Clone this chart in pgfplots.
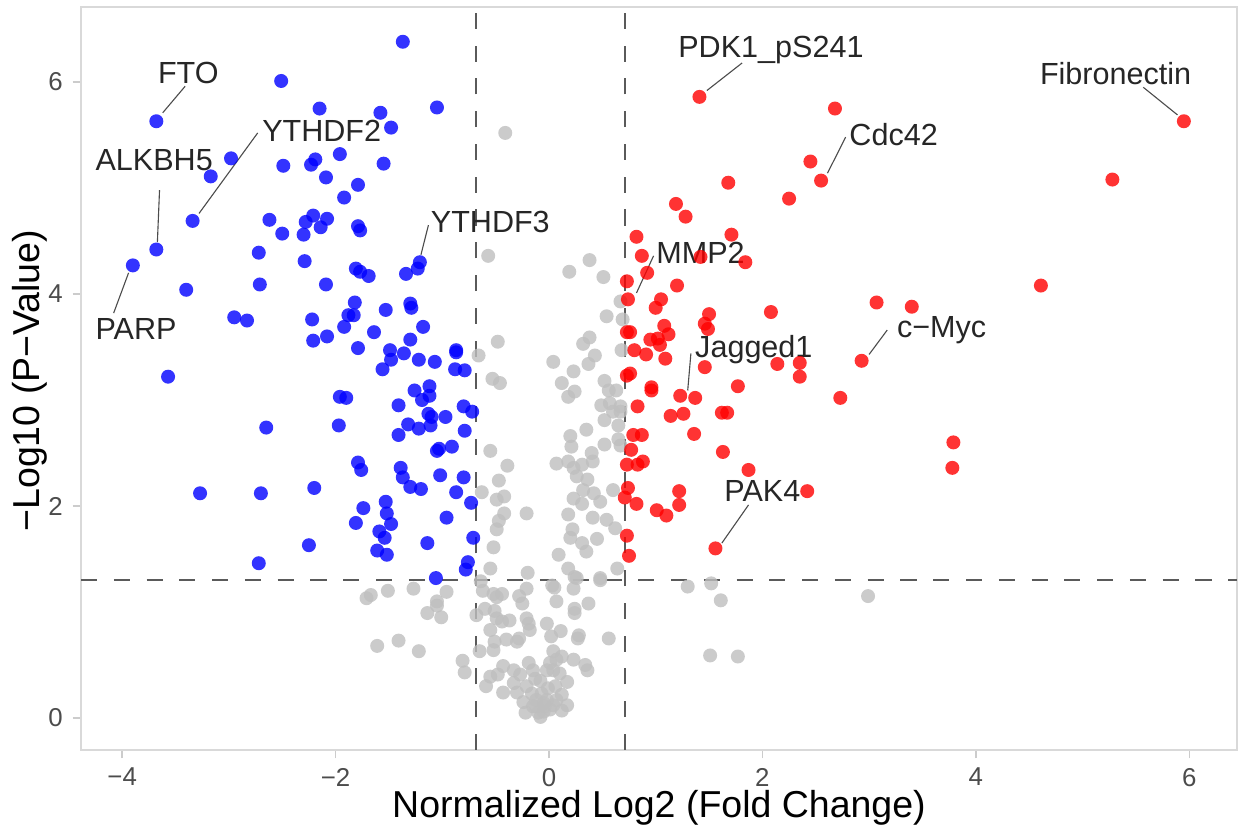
\documentclass[border=0pt]{standalone}
\usepackage{fontspec}
\setmainfont{Liberation Sans}
\usepackage{pgfplots}
\pgfplotsset{compat=1.18}
\definecolor{gcol}{RGB}{190,190,190}
\definecolor{bcol}{RGB}{0,0,255}
\definecolor{rcol}{RGB}{255,0,0}
\definecolor{dashcol}{RGB}{90,90,90}
\begin{document}
\begin{tikzpicture}
\useasboundingbox (0,0) rectangle (446.76pt,298.8pt);
\begin{axis}[
  at={(29.16pt,28.8pt)}, anchor=south west,
  scale only axis, width=416.16pt, height=267.48pt,
  xmin=-4.386, xmax=6.448, ymin=-0.302, ymax=6.708,
  xtick={-4,-2,0,2,4,6}, xticklabels={−4,−2,0,2,4,6},
  ytick={0,2,4,6}, yticklabels={0,2,4,6},
  axis line style={draw=black!15, line width=0.5pt},
  tick style={draw=black!20, line width=0.5pt},
  major tick length=3pt, tick align=outside, tick pos=left,
  ticklabel style={font=\fontsize{9.3}{11}\selectfont, text=black!70},
  xlabel={Normalized Log2 (Fold Change)},
  ylabel={−Log10 (P−Value)},
  label style={font=\fontsize{13.5}{16}\selectfont, text=black},
  xlabel style={at={([yshift=-20.9pt]axis description cs:0.5,0)}, anchor=center},
  ylabel style={at={([xshift=-18.4pt]axis description cs:0,0.497)}, anchor=center},
  pt/.style={only marks, mark=*, mark size=2.52pt, color=#1, mark options={solid, fill=#1, draw opacity=0, fill opacity=0.8}},
]
% grey: not significant
\addplot[pt=gcol] table {
x y
-0.41 5.52
-0.57 4.36
0.19 4.21
0.38 4.32
0.51 4.16
-0.66 3.42
-0.48 3.55
-0.53 3.20
-0.46 3.16
0.04 3.36
0.23 3.27
0.12 3.16
0.24 3.08
0.18 3.03
0.32 3.53
0.38 3.59
0.43 3.42
0.37 3.34
0.54 3.79
0.67 3.93
0.69 3.76
0.68 3.47
0.52 3.18
0.56 3.09
0.63 3.09
0.49 2.95
0.57 2.97
0.67 2.94
0.60 2.89
0.67 2.89
0.52 2.81
0.65 2.76
0.35 2.72
0.20 2.66
0.21 2.56
0.52 2.58
0.65 2.63
0.67 2.57
0.07 2.40
0.18 2.42
0.23 2.36
0.31 2.39
0.40 2.50
0.41 2.42
0.26 2.28
0.36 2.25
0.60 2.15
0.32 2.15
0.42 2.12
0.23 2.07
0.31 2.02
0.48 2.04
0.18 1.92
0.41 1.89
0.54 1.87
0.62 1.79
0.22 1.78
0.20 1.70
0.31 1.65
0.45 1.69
0.35 1.57
0.09 1.54
0.18 1.41
0.24 1.33
0.48 1.32
0.64 1.41
-0.20 1.37
-0.55 2.52
-0.39 2.38
-0.47 2.24
-0.63 2.13
-0.49 2.06
-0.42 2.09
-0.42 1.93
-0.47 1.86
-0.21 1.93
-0.49 1.78
-0.52 1.61
-0.55 1.41
-1.71 1.13
-1.67 1.16
-1.51 1.20
-1.27 1.22
-0.96 1.19
-1.05 1.10
-1.05 1.06
-1.14 0.99
-1.01 0.95
-1.61 0.68
-1.41 0.73
-1.22 0.63
-0.81 0.54
-0.79 0.43
-0.68 0.97
-0.64 1.29
-0.62 1.20
-0.52 1.17
-0.44 1.17
-0.49 1.14
-0.21 1.22
-0.28 1.15
-0.25 1.08
0.03 1.25
0.05 1.23
0.23 1.22
0.26 1.32
0.07 1.10
0.24 1.03
0.24 0.99
0.37 1.08
0.48 1.30
-0.60 1.03
-0.51 1.01
-0.49 0.94
-0.44 0.91
-0.37 0.92
-0.55 0.83
-0.21 0.94
-0.19 0.89
-0.18 0.83
-0.02 0.89
0.02 0.77
0.11 0.82
0.27 0.75
0.28 0.78
0.56 0.75
-0.65 0.63
-0.51 0.72
-0.52 0.64
-0.40 0.74
-0.30 0.72
-0.28 0.75
0.04 0.63
0.12 0.58
0.23 0.55
0.34 0.50
0.36 0.45
-0.43 0.49
-0.55 0.39
-0.59 0.30
-0.43 0.24
-0.48 0.41
-0.33 0.45
-0.27 0.41
-0.19 0.52
-0.15 0.45
-0.33 0.33
-0.30 0.24
-0.21 0.30
-0.13 0.37
-0.02 0.45
0.01 0.52
0.07 0.55
0.10 0.42
0.17 0.34
-0.01 0.28
0.12 0.22
0.17 0.12
0.12 0.07
-0.24 0.15
-0.22 0.05
-0.15 0.11
-0.08 0.01
-0.05 0.06
0.01 0.08
0.04 0.12
-0.12 0.17
-0.02 0.17
-0.16 0.23
-0.07 0.23
0.07 0.17
-0.12 0.11
-0.04 0.11
0.04 0.45
-0.10 0.05
-0.05 0.14
0.06 0.30
-0.08 0.35
1.30 1.24
1.52 1.27
1.61 1.11
2.99 1.15
1.51 0.59
1.77 0.58
};
% blue: down
\addplot[pt=bcol] table {
x y
-1.37 6.38
-2.51 6.01
-3.68 5.63
-2.15 5.75
-1.05 5.76
-1.58 5.71
-1.48 5.57
-2.98 5.28
-3.17 5.11
-2.49 5.21
-2.23 5.22
-2.19 5.27
-1.96 5.32
-1.55 5.23
-2.09 5.10
-1.79 5.03
-1.92 4.91
-3.34 4.69
-2.62 4.70
-2.50 4.57
-2.30 4.56
-2.28 4.68
-2.21 4.74
-2.08 4.71
-2.14 4.63
-1.79 4.64
-1.77 4.60
-3.68 4.42
-2.72 4.39
-2.29 4.31
-1.81 4.24
-1.77 4.21
-1.69 4.17
-1.34 4.19
-1.23 4.24
-1.21 4.30
-3.90 4.27
-2.71 4.09
-2.09 4.09
-3.40 4.04
-2.95 3.78
-2.83 3.75
-2.22 3.76
-2.21 3.56
-2.08 3.60
-1.82 3.92
-1.88 3.80
-1.83 3.80
-1.92 3.69
-1.79 3.49
-1.64 3.64
-1.53 3.85
-1.30 3.91
-1.29 3.87
-1.18 3.69
-1.30 3.57
-1.49 3.47
-1.48 3.38
-1.36 3.44
-1.22 3.38
-1.07 3.36
-1.56 3.29
-0.87 3.47
-0.87 3.45
-0.88 3.29
-0.79 3.28
-3.57 3.22
-1.96 3.03
-1.90 3.02
-1.26 3.09
-1.12 3.13
-1.12 3.04
-1.19 3.00
-1.41 2.95
-1.13 2.87
-1.10 2.84
-0.97 2.84
-0.80 2.94
-0.72 2.89
-1.32 2.77
-1.22 2.73
-1.11 2.76
-1.41 2.67
-0.79 2.71
-2.65 2.74
-1.97 2.76
-1.05 2.52
-1.03 2.54
-0.91 2.56
-1.79 2.41
-1.76 2.34
-1.39 2.36
-1.37 2.27
-1.30 2.18
-1.20 2.16
-1.02 2.29
-0.80 2.27
-0.87 2.13
-0.73 2.03
-3.27 2.12
-2.70 2.12
-2.20 2.17
-1.74 1.98
-1.53 2.04
-1.52 1.93
-1.48 1.83
-1.81 1.84
-1.59 1.76
-1.54 1.70
-0.96 1.89
-0.71 1.70
-1.14 1.65
-2.25 1.63
-1.61 1.58
-1.52 1.54
-0.76 1.47
-0.78 1.40
-2.72 1.46
-1.06 1.32
};
% red: up
\addplot[pt=rcol] table {
x y
1.41 5.86
2.68 5.75
2.45 5.25
2.55 5.07
1.68 5.05
2.25 4.90
1.19 4.85
1.28 4.73
1.71 4.56
0.82 4.54
0.87 4.36
1.42 4.35
1.84 4.30
0.92 4.20
0.73 4.12
1.20 4.08
5.95 5.63
5.28 5.08
4.61 4.08
3.79 2.60
3.78 2.36
0.74 3.95
1.05 3.95
1.00 3.87
1.50 3.81
1.46 3.72
1.49 3.67
2.08 3.83
3.07 3.92
3.40 3.88
0.73 3.64
0.76 3.64
1.08 3.70
1.12 3.62
0.95 3.57
1.02 3.58
1.04 3.52
0.80 3.47
0.91 3.43
1.09 3.39
1.46 3.31
2.14 3.34
2.35 3.35
2.35 3.22
2.93 3.37
0.73 3.23
0.76 3.25
0.96 3.12
0.96 3.09
1.23 3.04
1.37 3.02
1.77 3.13
2.73 3.02
0.83 2.94
1.14 2.85
1.26 2.87
1.62 2.88
1.67 2.88
0.79 2.67
0.87 2.67
0.77 2.53
1.36 2.68
1.63 2.51
0.73 2.39
0.83 2.39
0.88 2.42
1.87 2.34
0.74 2.17
0.71 2.08
0.82 2.02
1.22 2.14
1.22 2.01
1.01 1.96
1.10 1.91
2.42 2.14
1.56 1.60
0.73 1.72
0.75 1.53
};
% threshold lines
\draw[dashcol, line width=0.45pt, dash pattern=on 5.8pt off 6pt] (axis cs:-0.684,-0.302) -- (axis cs:-0.684,6.708);
\draw[dashcol, line width=0.45pt, dash pattern=on 5.8pt off 6pt] (axis cs:0.712,-0.302) -- (axis cs:0.712,6.708);
\draw[dashcol, line width=0.45pt, dash pattern=on 5.8pt off 6pt] (axis cs:-4.386,1.301) -- (axis cs:6.448,1.301);
% leader lines
\begin{scope}[black!70, line width=0.4pt]
\draw (axis cs:-3.62,5.71) -- (axis cs:-3.41,5.96);
\draw (axis cs:-3.67,4.49) -- (axis cs:-3.65,4.98);
\draw (axis cs:-3.94,4.20) -- (axis cs:-4.08,3.82);
\draw (axis cs:-3.28,4.76) -- (axis cs:-2.73,5.52);
\draw (axis cs:-1.20,4.37) -- (axis cs:-1.13,4.65);
\draw (axis cs:1.48,5.92) -- (axis cs:1.81,6.18);
\draw (axis cs:2.61,5.14) -- (axis cs:2.78,5.48);
\draw (axis cs:5.89,5.69) -- (axis cs:5.57,5.95);
\draw (axis cs:0.82,4.01) -- (axis cs:0.98,4.36);
\draw (axis cs:1.30,3.09) -- (axis cs:1.33,3.44);
\draw (axis cs:3.00,3.43) -- (axis cs:3.17,3.66);
\draw (axis cs:1.62,1.65) -- (axis cs:1.87,2.01);
\end{scope}
% labels
\begin{scope}[every node/.style={font=\fontsize{11}{13}\selectfont, text=black!85, inner sep=0pt}]
\node at (axis cs:-3.38,6.09) {FTO};
\node at (axis cs:-3.70,5.26) {ALKBH5};
\node at (axis cs:-3.87,3.67) {PARP};
\node at (axis cs:-2.13,5.54) {YTHDF2};
\node at (axis cs:-0.55,4.68) {YTHDF3};
\node at (axis cs:2.08,6.30) {PDK1\_pS241};
\node at (axis cs:3.23,5.50) {Cdc42};
\node at (axis cs:5.31,6.08) {Fibronectin};
\node at (axis cs:1.42,4.39) {MMP2};
\node at (axis cs:1.92,3.48) {Jagged1};
\node at (axis cs:3.68,3.66) {c−Myc};
\node at (axis cs:2.00,2.14) {PAK4};
\end{scope}
\end{axis}
\end{tikzpicture}
\end{document}
